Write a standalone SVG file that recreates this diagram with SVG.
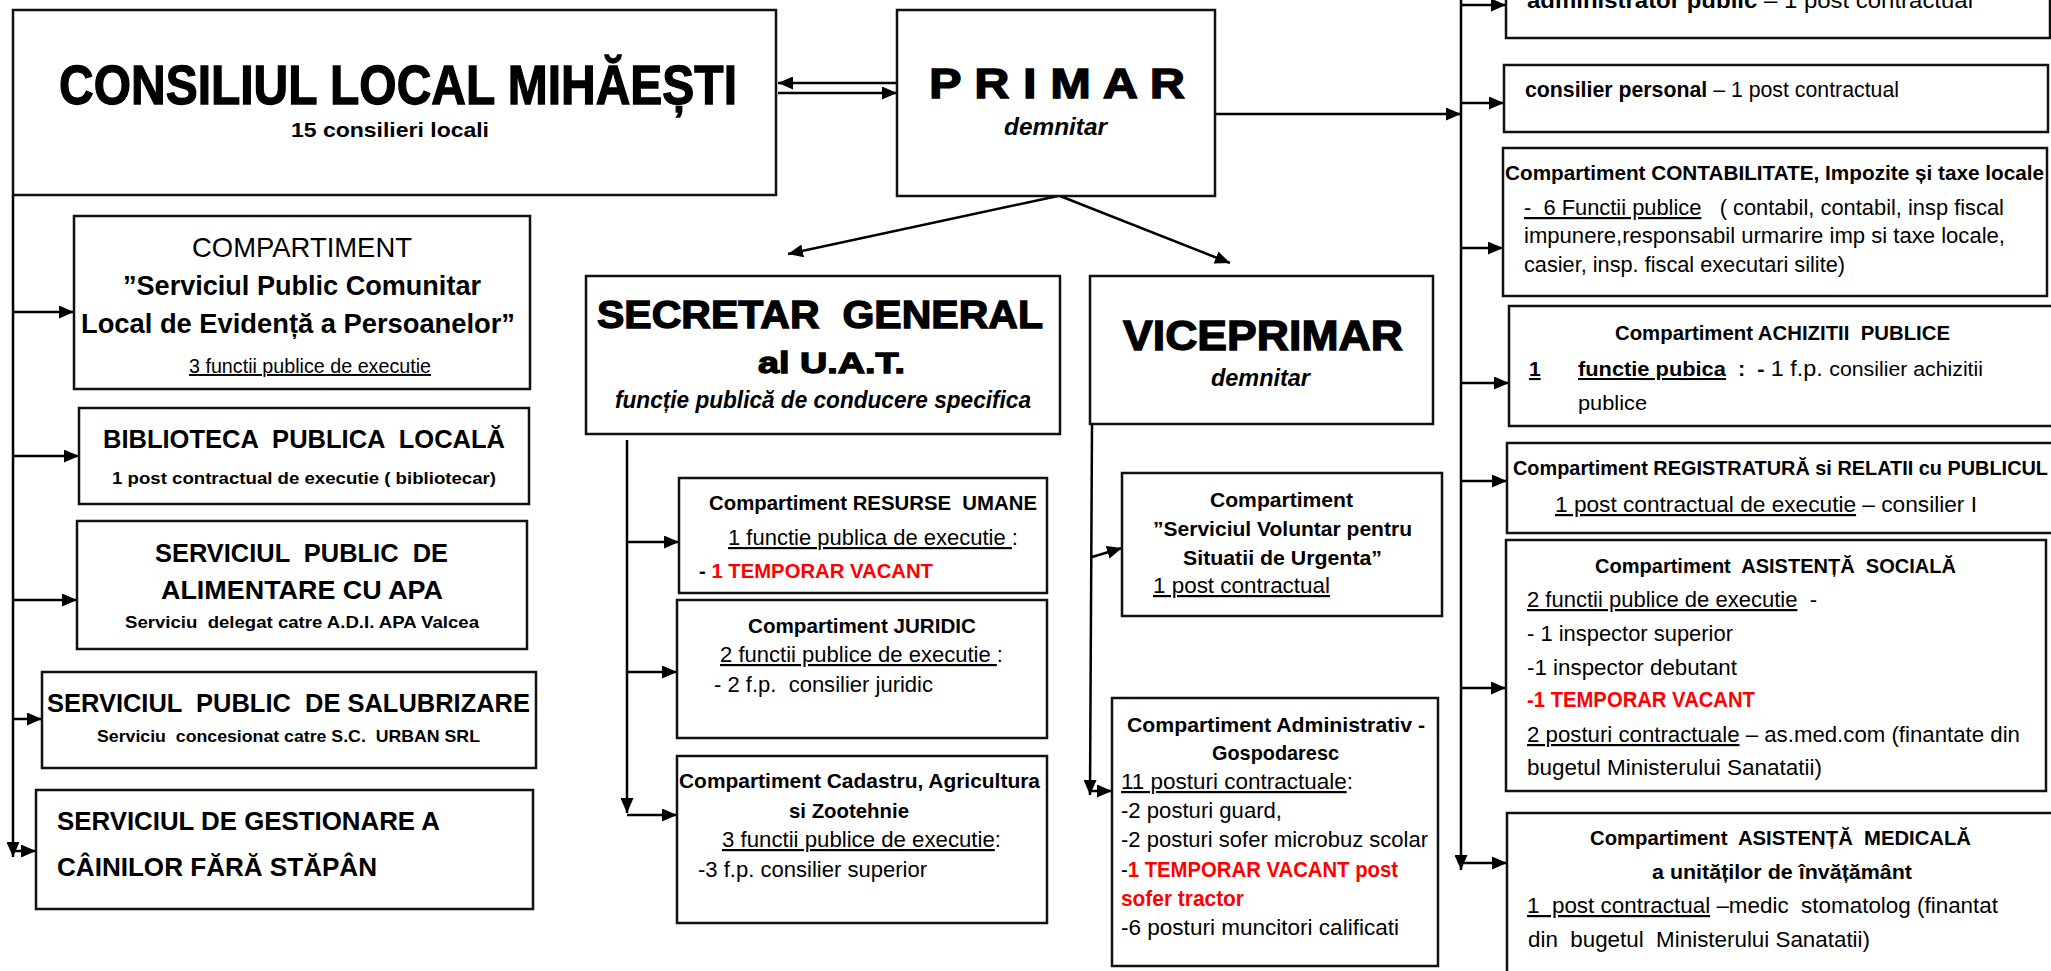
<svg xmlns="http://www.w3.org/2000/svg" width="2051" height="971" viewBox="0 0 2051 971" xml:space="preserve">
<defs>
<style>
.box{fill:#fff;stroke:#111;stroke-width:2.5}
.c{stroke:#000;stroke-width:2.5;fill:none;marker-end:url(#ah)}
text{font-family:"Liberation Sans",Arial,sans-serif;fill:#000;white-space:pre}
.b{font-weight:bold}
.i{font-style:italic}
.u{text-decoration:underline}
.red{fill:#f00}
.blk{font-weight:bold;stroke:#000;stroke-width:1.3}
.r22{font-size:22px}
.b20{font-size:20.5px;font-weight:bold}
</style>
<marker id="ah" viewBox="0 0 15 13" refX="15" refY="6.5" markerWidth="15" markerHeight="13" markerUnits="userSpaceOnUse" orient="auto"><path d="M0,0 L15,6.5 L0,13 z" fill="#000"/></marker>
</defs>
<rect width="2051" height="971" fill="#fff"/>
<g id="connectors">
<path class="c" d="M897,83 H778"/>
<path class="c" d="M778,93 H897"/>
<path class="c" d="M1215,114 H1461"/>
<path class="c" d="M1461,0 V870"/>
<path class="c" d="M1461,5 H1506"/>
<path class="c" d="M1461,103 H1504"/>
<path class="c" d="M1461,248 H1503"/>
<path class="c" d="M1461,383 H1509"/>
<path class="c" d="M1461,481 H1507"/>
<path class="c" d="M1461,688 H1506"/>
<path class="c" d="M1461,863 H1507"/>
<path class="c" d="M1058,196 L788,254"/>
<path class="c" d="M1060,196 L1230,263"/>
<path class="c" d="M13,195 V857"/>
<path class="c" d="M13,312 H74"/>
<path class="c" d="M13,456 H79"/>
<path class="c" d="M13,600 H77"/>
<path class="c" d="M13,719 H42"/>
<path class="c" d="M13,851 H36"/>
<path class="c" d="M627,440 V813"/>
<path class="c" d="M627,542 H679"/>
<path class="c" d="M627,672 H677"/>
<path class="c" d="M627,815 H677"/>
<path class="c" d="M1092,424 L1090,795"/>
<path class="c" d="M1092,557 L1122,548"/>
<path class="c" d="M1091,791 H1112"/>
</g>
<g id="consiliul">
<rect class="box" x="13" y="10" width="763" height="185"/>
<text class="blk" x="59" y="104" font-size="56" textLength="678" lengthAdjust="spacingAndGlyphs">CONSILIUL LOCAL MIHĂEȘTI</text>
<text class="b" x="291" y="137" font-size="21" textLength="198" lengthAdjust="spacingAndGlyphs">15 consilieri locali</text>
</g>
<g id="primar">
<rect class="box" x="897" y="10" width="318" height="186"/>
<text class="blk" x="929" y="98" font-size="43" textLength="256" lengthAdjust="spacingAndGlyphs">P R I M A R</text>
<text class="b i" x="1004" y="135" font-size="24" textLength="103" lengthAdjust="spacingAndGlyphs">demnitar</text>
</g>
<g id="secretar">
<rect class="box" x="586" y="276" width="474" height="158"/>
<text class="blk" x="597" y="328" font-size="39" textLength="446" lengthAdjust="spacingAndGlyphs">SECRETAR  GENERAL</text>
<text class="blk" x="758" y="373" font-size="30" textLength="147" lengthAdjust="spacingAndGlyphs">al U.A.T.</text>
<text class="b i" x="615" y="408" font-size="23" textLength="416" lengthAdjust="spacingAndGlyphs">funcție publică de conducere specifica</text>
</g>
<g id="viceprimar">
<rect class="box" x="1090" y="276" width="343" height="148"/>
<text class="blk" x="1123" y="350" font-size="42" textLength="280" lengthAdjust="spacingAndGlyphs">VICEPRIMAR</text>
<text class="b i" x="1211" y="386" font-size="24" textLength="99" lengthAdjust="spacingAndGlyphs">demnitar</text>
</g>
<g id="spclep">
<rect class="box" x="74" y="216" width="456" height="173"/>
<text x="192" y="257" font-size="28" textLength="220" lengthAdjust="spacingAndGlyphs">COMPARTIMENT</text>
<text class="b" x="123" y="295" font-size="27" textLength="358" lengthAdjust="spacingAndGlyphs">”Serviciul Public Comunitar</text>
<text class="b" x="81" y="333" font-size="27" textLength="434" lengthAdjust="spacingAndGlyphs">Local de Evidență a Persoanelor”</text>
<text class="u" x="189" y="373" font-size="19.5" textLength="242" lengthAdjust="spacingAndGlyphs">3 functii publice de executie</text>
</g>
<g id="biblioteca">
<rect class="box" x="79" y="408" width="450" height="96"/>
<text class="b" x="103" y="448" font-size="25.5" textLength="402" lengthAdjust="spacingAndGlyphs">BIBLIOTECA  PUBLICA  LOCALĂ</text>
<text class="b" x="112" y="484" font-size="17" textLength="384" lengthAdjust="spacingAndGlyphs">1 post contractual de executie ( bibliotecar)</text>
</g>
<g id="apa">
<rect class="box" x="77" y="521" width="450" height="128"/>
<text class="b" x="155" y="562" font-size="26" textLength="293" lengthAdjust="spacingAndGlyphs">SERVICIUL  PUBLIC  DE</text>
<text class="b" x="161" y="599" font-size="26" textLength="282" lengthAdjust="spacingAndGlyphs">ALIMENTARE CU APA</text>
<text class="b" x="125" y="628" font-size="17" textLength="354" lengthAdjust="spacingAndGlyphs">Serviciu  delegat catre A.D.I. APA Valcea</text>
</g>
<g id="salubrizare">
<rect class="box" x="42" y="672" width="494" height="96"/>
<text class="b" x="47" y="712" font-size="26" textLength="483" lengthAdjust="spacingAndGlyphs">SERVICIUL  PUBLIC  DE SALUBRIZARE</text>
<text class="b" x="97" y="742" font-size="17" textLength="383" lengthAdjust="spacingAndGlyphs">Serviciu  concesionat catre S.C.  URBAN SRL</text>
</g>
<g id="caini">
<rect class="box" x="36" y="790" width="497" height="119"/>
<text class="b" x="57" y="830" font-size="26" textLength="383" lengthAdjust="spacingAndGlyphs">SERVICIUL DE GESTIONARE A</text>
<text class="b" x="57" y="876" font-size="26" textLength="320" lengthAdjust="spacingAndGlyphs">CÂINILOR FĂRĂ STĂPÂN</text>
</g>
<g id="resurse">
<rect class="box" x="679" y="478" width="368" height="115"/>
<text class="b20" x="709" y="510" textLength="328" lengthAdjust="spacingAndGlyphs">Compartiment RESURSE  UMANE</text>
<text class="r22" x="728" y="545" textLength="290" lengthAdjust="spacingAndGlyphs"><tspan class="u">1 functie publica de executie </tspan>:</text>
<text class="b" x="699" y="578" font-size="21" textLength="234" lengthAdjust="spacingAndGlyphs">- <tspan class="red">1 TEMPORAR VACANT</tspan></text>
</g>
<g id="juridic">
<rect class="box" x="677" y="600" width="370" height="138"/>
<text class="b20" x="748" y="633" textLength="228" lengthAdjust="spacingAndGlyphs">Compartiment JURIDIC</text>
<text class="r22" x="720" y="662" textLength="283" lengthAdjust="spacingAndGlyphs"><tspan class="u">2 functii publice de executie </tspan>:</text>
<text class="r22" x="714" y="692" textLength="219" lengthAdjust="spacingAndGlyphs">- 2 f.p.  consilier juridic</text>
</g>
<g id="cadastru">
<rect class="box" x="677" y="756" width="370" height="167"/>
<text class="b20" x="679" y="788" textLength="361" lengthAdjust="spacingAndGlyphs">Compartiment Cadastru, Agricultura</text>
<text class="b20" x="789" y="818" textLength="120" lengthAdjust="spacingAndGlyphs">si Zootehnie</text>
<text class="r22" x="722" y="847" textLength="279" lengthAdjust="spacingAndGlyphs"><tspan class="u">3 functii publice de executie</tspan>:</text>
<text class="r22" x="698" y="877" textLength="229" lengthAdjust="spacingAndGlyphs">-3 f.p. consilier superior</text>
</g>
<g id="voluntar">
<rect class="box" x="1122" y="473" width="320" height="143"/>
<text class="b20" x="1210" y="507" textLength="143" lengthAdjust="spacingAndGlyphs">Compartiment</text>
<text class="b20" x="1153" y="536" textLength="259" lengthAdjust="spacingAndGlyphs">”Serviciul Voluntar pentru</text>
<text class="b20" x="1183" y="565" textLength="199" lengthAdjust="spacingAndGlyphs">Situatii de Urgenta”</text>
<text class="r22 u" x="1153" y="593" textLength="177" lengthAdjust="spacingAndGlyphs">1 post contractual</text>
</g>
<g id="administrativ">
<rect class="box" x="1112" y="698" width="326" height="268"/>
<text class="b20" x="1127" y="732" textLength="298" lengthAdjust="spacingAndGlyphs">Compartiment Administrativ -</text>
<text class="b20" x="1212" y="760" textLength="127" lengthAdjust="spacingAndGlyphs">Gospodaresc</text>
<text class="r22" x="1121" y="789" textLength="232" lengthAdjust="spacingAndGlyphs"><tspan class="u">11 posturi contractuale</tspan>:</text>
<text class="r22" x="1121" y="818" textLength="161" lengthAdjust="spacingAndGlyphs">-2 posturi guard,</text>
<text class="r22" x="1121" y="847" textLength="307" lengthAdjust="spacingAndGlyphs">-2 posturi sofer microbuz scolar</text>
<text class="r22" x="1121" y="877" textLength="277" lengthAdjust="spacingAndGlyphs">-<tspan class="b red">1 TEMPORAR VACANT post</tspan></text>
<text class="r22 b red" x="1121" y="906" textLength="123" lengthAdjust="spacingAndGlyphs">sofer tractor</text>
<text class="r22" x="1121" y="935" textLength="278" lengthAdjust="spacingAndGlyphs">-6 posturi muncitori calificati</text>
</g>
<g id="administrator">
<rect class="box" x="1506" y="-5" width="544" height="43"/>
<text class="r22" x="1527" y="8" textLength="446" lengthAdjust="spacingAndGlyphs"><tspan class="b">administrator public</tspan> – 1 post contractual</text>
</g>
<g id="consilier">
<rect class="box" x="1504" y="65" width="544" height="67"/>
<text class="r22" x="1525" y="97" textLength="374" lengthAdjust="spacingAndGlyphs"><tspan class="b">consilier personal</tspan> – 1 post contractual</text>
</g>
<g id="contabilitate">
<rect class="box" x="1503" y="148" width="544" height="148"/>
<text class="b20" x="1505" y="180" textLength="539" lengthAdjust="spacingAndGlyphs">Compartiment CONTABILITATE, Impozite și taxe locale</text>
<text class="r22" x="1524" y="215" textLength="480" lengthAdjust="spacingAndGlyphs"><tspan class="u">-  6 Functii publice</tspan>   ( contabil, contabil, insp fiscal</text>
<text class="r22" x="1524" y="243" textLength="481" lengthAdjust="spacingAndGlyphs">impunere,responsabil urmarire imp si taxe locale,</text>
<text class="r22" x="1524" y="272" textLength="321" lengthAdjust="spacingAndGlyphs">casier, insp. fiscal executari silite)</text>
</g>
<g id="achizitii">
<rect class="box" x="1509" y="306" width="560" height="120"/>
<text class="b20" x="1615" y="340" textLength="335" lengthAdjust="spacingAndGlyphs">Compartiment ACHIZITII  PUBLICE</text>
<text class="b u" x="1529" y="376" font-size="21">1</text>
<text class="r22" x="1578" y="376" textLength="405" lengthAdjust="spacingAndGlyphs"><tspan class="b u" font-size="20.5">functie pubica</tspan><tspan class="b" font-size="20.5">  :  - </tspan>1 f.p. <tspan font-size="20">consilier achizitii</tspan></text>
<text x="1578" y="410" font-size="20" textLength="69" lengthAdjust="spacingAndGlyphs">publice</text>
</g>
<g id="registratura">
<rect class="box" x="1507" y="443" width="560" height="90"/>
<text class="b20" x="1513" y="475" textLength="535" lengthAdjust="spacingAndGlyphs">Compartiment REGISTRATURĂ si RELATII cu PUBLICUL</text>
<text class="r22" x="1555" y="512" textLength="422" lengthAdjust="spacingAndGlyphs"><tspan class="u">1 post contractual de executie</tspan> – consilier I</text>
</g>
<g id="asistenta-sociala">
<rect class="box" x="1506" y="540" width="540" height="251"/>
<text class="b20" x="1595" y="573" textLength="361" lengthAdjust="spacingAndGlyphs">Compartiment  ASISTENȚĂ  SOCIALĂ</text>
<text class="r22" x="1527" y="607" textLength="290" lengthAdjust="spacingAndGlyphs"><tspan class="u">2 functii publice de executie</tspan>  -</text>
<text class="r22" x="1527" y="641" textLength="206" lengthAdjust="spacingAndGlyphs">- 1 inspector superior</text>
<text class="r22" x="1527" y="675" textLength="210" lengthAdjust="spacingAndGlyphs">-1 inspector debutant</text>
<text class="r22 b red" x="1527" y="707" textLength="228" lengthAdjust="spacingAndGlyphs">-1 TEMPORAR VACANT</text>
<text class="r22" x="1527" y="742" textLength="493" lengthAdjust="spacingAndGlyphs"><tspan class="u">2 posturi contractuale</tspan> – as.med.com (finantate din</text>
<text class="r22" x="1527" y="775" textLength="295" lengthAdjust="spacingAndGlyphs">bugetul Ministerului Sanatatii)</text>
</g>
<g id="asistenta-medicala">
<rect class="box" x="1507" y="813" width="560" height="170"/>
<text class="b20" x="1590" y="845" textLength="381" lengthAdjust="spacingAndGlyphs">Compartiment  ASISTENȚĂ  MEDICALĂ</text>
<text class="b20" x="1652" y="879" textLength="260" lengthAdjust="spacingAndGlyphs">a unităților de învățământ</text>
<text class="r22" x="1527" y="913" textLength="471" lengthAdjust="spacingAndGlyphs"><tspan class="u">1  post contractual</tspan> –medic  stomatolog (finantat</text>
<text class="r22" x="1528" y="947" textLength="342" lengthAdjust="spacingAndGlyphs">din  bugetul  Ministerului Sanatatii)</text>
</g>
</svg>
